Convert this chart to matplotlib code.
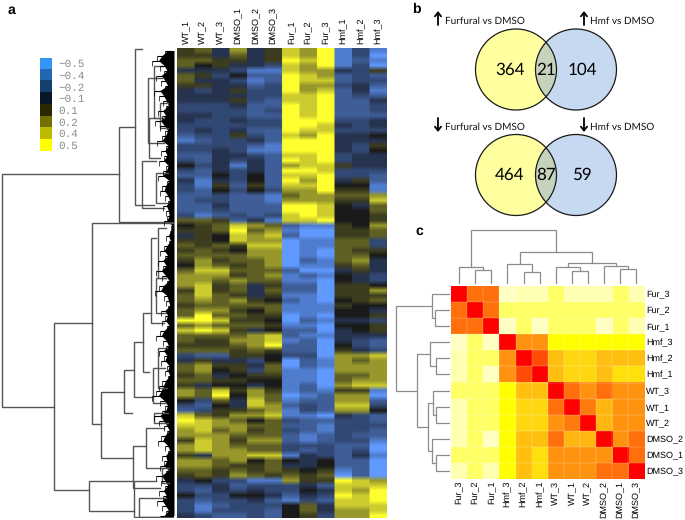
import numpy as np
import matplotlib
matplotlib.use('Agg')
import matplotlib.pyplot as plt
from matplotlib.colors import LinearSegmentedColormap, ListedColormap
from matplotlib.patches import Circle

plt.rcParams['font.family'] = ['Liberation Sans', 'DejaVu Sans']
plt.rcParams['text.hinting'] = 'no_hinting'
plt.rcParams['text.hinting_factor'] = 1

W, H = 685, 520

# panel a
sample_names = ['WT_1', 'WT_2', 'WT_3', 'DMSO_1', 'DMSO_2', 'DMSO_3',
                'Fur_1', 'Fur_2', 'Fur_3', 'Hmf_1', 'Hmf_2', 'Hmf_3']
# expression, in tenths
expression = [
    [1, 2, -1, 3, -1, 1, 4, 3, 5, -4, -2, -4],
    [1, 1, -1, 2, -1, 1, 4, 3, 5, -4, -2, -5],
    [2, 2, 1, 1, -1, 1, 5, 4, 5, -4, -3, -4],
    [2, 0, 1, -1, -1, -2, 4, 3, 5, -4, -2, -5],
    [-1, -1, -1, -2, -4, -4, 4, 3, 3, -1, -2, 1],
    [2, 1, -2, 0, -3, -3, 5, 4, 3, -3, -2, -3],
    [2, -1, -1, -2, -4, -3, 5, 4, 4, -3, -2, -2],
    [1, 1, -1, -1, -3, -2, 5, 3, 3, -2, -1, -3],
    [-1, -2, -1, 1, -2, -2, 5, 3, 4, -3, -1, -4],
    [-1, -1, -1, -1, -2, -2, 4, 4, 5, -3, -2, -3],
    [-1, -1, -1, 1, -2, -3, 4, 4, 5, -3, -3, -1],
    [-2, -2, -2, -1, -3, -3, 5, 4, 5, -3, -3, -2],
    [-2, -2, -2, -2, -3, -2, 5, 4, 5, -3, -3, -2],
    [-1, -1, -2, -2, -3, -3, 5, 4, 5, -3, -3, -3],
    [-1, -2, -2, -1, -2, -2, 5, 5, 5, -2, -2, -1],
    [-2, -2, -2, -2, -2, -2, 5, 5, 4, -1, -2, -1],
    [-2, -1, -2, -1, -3, -3, 5, 4, 4, -2, -2, -2],
    [-3, -2, -2, 1, -2, -3, 4, 3, 5, -1, -1, 0],
    [-4, -3, -2, -2, -1, -3, 5, 5, 5, -1, -1, -1],
    [-2, -2, -2, -2, -3, -4, 5, 5, 5, -1, -2, 1],
    [-2, -2, -1, -2, -4, -4, 5, 5, 5, -1, -2, 0],
    [-3, -3, -1, -1, -2, -3, 4, 4, 5, -2, -1, -1],
    [-2, -3, -1, -2, -1, -3, 5, 4, 5, -2, -1, -1],
    [0, -2, -1, -4, -1, -3, 3, 4, 4, 1, -1, -1],
    [-2, -3, -1, -2, -1, -3, 5, 5, 4, -2, -2, -2],
    [-3, -3, 0, -2, 0, -3, 4, 4, 5, -2, -2, -3],
    [-1, -4, -1, -2, 0, -3, 5, 3, 5, -1, 1, -3],
    [-2, -4, 1, -3, 1, -3, 4, 4, 5, 0, 0, -4],
    [-2, -3, 0, -2, 0, -2, 3, 3, 5, 1, 1, -4],
    [-3, -3, -2, -3, -3, -4, 2, 3, 3, 2, 2, 3],
    [-3, -2, -2, -3, -3, -4, 3, 3, 3, 1, 1, 4],
    [-3, -3, -1, -3, -3, -3, 5, 5, 4, 0, -1, 2],
    [-3, -3, -2, -3, -3, -3, 5, 5, 4, 0, 0, 2],
    [-2, -4, -3, -2, -3, -2, 4, 5, 4, 0, 0, 1],
    [2, 2, 1, -3, -1, -4, 4, 4, 5, 0, 0, 1],
    [0, 1, 2, 4, 3, 2, -3, -4, -4, 1, 0, 3],
    [1, 1, 2, 5, 2, 3, -4, -5, -5, 1, 1, 2],
    [-1, 1, 0, 4, 3, 4, -3, -5, -5, 1, 1, 2],
    [1, 1, 0, 4, 3, 3, -5, -4, -4, 2, 2, -2],
    [2, 1, 2, 1, 4, 4, -5, -4, -4, 2, 2, -2],
    [1, 2, 1, 0, 3, 3, -5, -4, -5, 2, 1, 1],
    [2, 2, 2, 2, 3, 3, -5, -4, -5, 2, 2, 0],
    [1, 3, 1, 2, 2, 3, -5, -3, -4, 2, 3, -1],
    [0, 3, 2, 1, 2, 3, -5, -4, -4, 1, 2, -1],
    [2, 4, 4, 2, 2, 2, -3, -5, -5, -1, 1, -1],
    [3, 3, 3, 1, 2, 3, -4, -3, -4, 0, -1, -2],
    [3, 3, 2, 3, 2, 2, -4, -4, -5, 0, -1, -2],
    [3, 4, 1, 2, -1, 1, -3, -3, -5, 1, 1, 0],
    [1, 4, 1, 2, -1, 2, -3, -3, -5, 1, 1, 3],
    [2, 4, 2, 1, -1, 1, -4, -4, -5, 1, 1, 1],
    [2, 3, 2, 3, 1, 0, -3, -4, -5, 0, 1, 2],
    [1, 2, 2, 2, 2, 2, -4, -4, -4, 1, 0, 0],
    [2, 3, 3, 1, 0, 2, -4, -4, -4, 0, 0, -1],
    [2, 5, 2, 2, 1, 1, -5, -4, -5, 0, 0, 1],
    [5, 5, 4, 1, 1, 0, -5, -3, -4, -1, -1, -2],
    [2, 3, 2, 2, 2, 1, -4, -4, -5, 0, 0, 1],
    [4, 5, 4, 1, -1, 0, -3, -3, -5, -1, 0, 1],
    [2, 2, 2, 2, 3, 4, -3, -4, -4, -1, -1, -1],
    [2, 1, 1, 3, 3, 4, -4, -3, -5, -1, -2, -3],
    [1, 1, 1, 2, 3, 5, -3, -3, -5, 0, -2, -3],
    [2, 2, 2, 1, 2, 1, -3, -3, -5, 1, -1, -2],
    [-2, -3, -3, 1, 1, 0, -2, -2, -5, 3, 3, 4],
    [-1, 1, -1, -1, -2, 0, -5, -3, -4, 3, 2, 3],
    [2, 3, 1, 1, -1, 2, -5, -3, -4, 3, 3, 3],
    [2, 3, 0, 1, -2, 2, -4, -4, -5, 3, 3, 3],
    [1, 2, -1, 0, 1, 1, -4, -4, -5, 2, 2, 3],
    [2, 2, 1, 1, 0, 0, -4, -4, -5, 2, 3, 3],
    [1, -1, 0, 0, -1, 0, -4, -3, -5, 3, 4, 4],
    [3, 2, 4, 1, 3, 1, -4, -3, -4, 1, 1, -4],
    [3, 2, 5, 0, 3, 2, -5, -4, -3, 3, 3, -5],
    [0, -2, 2, -1, 4, 2, -4, -3, -3, 3, 3, -3],
    [-2, -3, 0, -1, 4, 3, -3, -2, -3, 4, 4, -2],
    [-3, -2, 1, 1, 2, 3, -4, -2, -3, 3, 3, 0],
    [4, 2, 1, 3, 3, 4, -4, -4, -5, -1, -2, -3],
    [5, 4, 3, 2, 0, 2, -2, -3, -3, -2, -2, -3],
    [4, 4, 3, 3, 2, 2, -3, -3, -4, -2, -2, -2],
    [3, 4, 2, 3, 1, 2, -2, -3, -4, -2, -2, -3],
    [3, 3, 3, 2, 2, 2, -3, -4, -3, -2, -3, -3],
    [1, 4, 3, 1, 3, 3, -3, -4, -3, -2, -2, -4],
    [3, 4, 3, 2, 2, 2, -2, -2, -2, -3, -3, -5],
    [3, 4, 3, 3, 2, 2, -2, -3, -2, -3, -2, -5],
    [1, -1, 3, 3, 4, 4, -4, -1, -2, -3, -1, -4],
    [3, 3, 2, 3, 0, 2, 0, -1, 0, -3, -3, -5],
    [3, 3, 2, 1, 1, 2, -1, -1, 0, -3, -3, -5],
    [2, 2, 1, 2, 1, 2, 1, 0, 1, -4, -3, -5],
    [1, 2, 1, 3, 2, 1, 2, 1, 2, -5, -3, -5],
    [-1, 0, -2, -2, -4, -4, 3, 1, 1, 5, 4, 3],
    [-2, -2, -1, -3, -2, -2, -2, -1, -3, 4, 4, 4],
    [-2, -3, -1, -2, -1, -2, -2, 0, -1, 4, 3, 5],
    [0, -2, -2, 0, 0, -1, -3, -1, -2, 5, 4, 5],
    [-2, -3, -2, -2, -1, -3, -4, -2, -3, 4, 4, 5],
    [-2, -4, -3, -2, -2, -2, 0, 2, -1, 4, 4, 4],
    [-2, -4, -2, -2, -2, -3, 0, 2, -1, 3, 3, 4],
    [-1, -2, -3, -3, -2, -3, 0, 1, -2, 3, 3, 5],
]

# row dendrogram of panel a: merge distance, rows joined, distance of each child
link_dist = [172, 55, 39, 120, 82, 73, 50, 40, 31, 23, 18, 16, 85, 41, 28, 40, 35, 20, 32, 25, 26, 18, 14, 21, 20, 16, 12]
link_top = [25.2, 15.8, 0.2, 55.0, 35.0, 68.8, 64.4, 58.8, 53.0, 38.0, 46.0, 36.0, 86.5, 79.5, 76.0, 86.5, 90.0, 3.5, 22.5, 14.0, 6.0, 25.0, 11.0, 64.0, 73.0, 60.0, 84.0]
link_bot = [71.8, 34.8, 31.4, 88.4, 75.2, 82.0, 73.0, 69.8, 64.8, 55.0, 53.0, 46.0, 92.5, 88.0, 84.0, 93.8, 93.8, 14.0, 32.0, 22.0, 19.0, 31.0, 16.0, 71.0, 75.0, 68.0, 87.0]
link_top_child = [55, 39, 32, 82, 0, 50, 40, 31, 23, 18, 8, 8, 41, 28, 10, 18, 8, 12, 18, 10, 12, 6, 6, 9, 6, 7, 5]
link_bot_child = [120, 0, 20, 85, 73, 41, 42, 21, 25, 10, 8, 8, 40, 14, 10, 8, 0, 14, 10, 14, 10, 6, 6, 8, 6, 7, 5]
# how far the leaf brackets reach to the left in each row
tip_depth = [9, 17, 22, 14, 10, 18, 13, 9, 20, 15, 11, 8, 16, 12, 19, 14, 9, 12, 17, 8,
             13, 10, 15, 8, 11, 16, 7, 12, 14, 9, 6, 11, 8, 7, 10, 3, 4, 8, 5, 10,
             14, 9, 16, 11, 18, 12, 7, 15, 19, 10, 8, 6, 13, 9, 12, 7, 14, 18, 11, 8,
             15, 10, 13, 7, 9, 6, 12, 15, 18, 22, 14, 9, 12, 20, 15, 10, 7, 13, 16, 9,
             6, 12, 10, 14, 8, 18, 13, 9, 15, 11, 17, 12, 8, 14]

legend_labels = ['\u22120.5', '\u22120.4', '\u22120.2', '\u22120.1', '0.1', '0.2', '0.4', '0.5']
legend_colors = ['#3296F5', '#2168B0', '#153F6E', '#071828', '#2A2900', '#727000', '#BDBB00', '#FFFF00']

# panel b
venn_up = [364, 21, 104]
venn_down = [464, 87, 59]

# panel c
corr_names = ['Fur_3', 'Fur_2', 'Fur_1', 'Hmf_3', 'Hmf_2', 'Hmf_1',
              'WT_3', 'WT_1', 'WT_2', 'DMSO_2', 'DMSO_1', 'DMSO_3']
corr = [
    [1.00, .75, .75, .03, .05, .05, .13, .05, .05, .05, .13, .05],
    [.75, 1.00, .75, .13, .13, .13, .13, .13, .13, .13, .13, .13],
    [.75, .75, 1.00, .03, .13, .03, .13, .13, .13, .03, .13, .05],
    [.03, .13, .03, 1.00, .65, .65, .30, .30, .30, .30, .30, .30],
    [.05, .13, .13, .65, 1.00, .85, .52, .45, .45, .52, .52, .52],
    [.05, .13, .03, .65, .85, 1.00, .52, .45, .45, .52, .42, .42],
    [.13, .13, .13, .30, .52, .52, 1.00, .75, .65, .75, .65, .65],
    [.05, .13, .13, .30, .45, .45, .75, 1.00, .72, .55, .65, .65],
    [.05, .13, .13, .30, .45, .45, .65, .72, 1.00, .55, .65, .65],
    [.05, .13, .03, .30, .52, .52, .75, .55, .55, 1.00, .65, .75],
    [.13, .13, .13, .30, .52, .42, .65, .65, .65, .65, 1.00, .75],
    [.05, .13, .05, .30, .52, .42, .65, .65, .65, .75, .75, 1.00],
]
# merges between clusters: ids below 12 are leaves, then one id per merge in order
corr_merges = [(1, 2), (0, 12), (4, 5), (3, 14), (7, 8), (6, 16), (10, 11), (9, 18), (17, 19), (15, 20), (13, 21)]
corr_heights_top = [42, 50, 37, 60, 40, 50, 45, 55, 63, 95, 161]
corr_heights_left = [45, 53, 41, 61, 41, 50, 43, 53, 65, 98, 163]

heat_cmap = LinearSegmentedColormap.from_list('expr', [(0.0, '#6099FF'), (0.2, '#3F5E98'), (0.4, '#26334F'), (0.5, '#1A1A1A'),
                                                       (0.7, '#5F5F24'), (0.8, '#97972C'), (1.0, '#FFFF30')])
corr_cmap = LinearSegmentedColormap.from_list('corr', [(0.0, '#FFFFDC'), (0.13, '#FFFF66'), (0.3, '#FFFF00'),
                                                       (0.45, '#FFD810'), (0.65, '#FF9410'), (0.85, '#FF4E08'), (1.0, '#FF0000')])
DENDRO = '#555555'
CORR_LINE = '#8C8C8C'


def add_axes_px(fig, x0, y0, x1, y1):
    # rectangle given from the top left corner of the picture
    ax = fig.add_axes([x0 / W, 1 - y1 / H, (x1 - x0) / W, (y1 - y0) / H])
    return ax


def corr_dendrogram(ax, merges, heights, vertical):
    pos = {i: i + 0.5 for i in range(12)}
    hgt = {i: 0 for i in range(12)}
    for k, (a, b) in enumerate(merges):
        xs = [pos[a], pos[a], pos[b], pos[b]]
        ys = [hgt[a], heights[k], heights[k], hgt[b]]
        if vertical:
            ax.plot(xs, ys, color=CORR_LINE, lw=0.9, solid_joinstyle='miter')
        else:
            ax.plot(ys, xs, color=CORR_LINE, lw=0.9, solid_joinstyle='miter')
        pos[12 + k] = (pos[a] + pos[b]) / 2
        hgt[12 + k] = heights[k]
    ax.axis('off')


fig = plt.figure(figsize=(W / 100, H / 100), dpi=100)

# a: heatmap, repeating the columns keeps the blur of the smoothing inside the rows
ax = add_axes_px(fig, 177, 48, 387, 518)
n_rows = len(expression)
expr_fine = np.repeat(np.array(expression) / 10, 20, axis=1)
ax.imshow(expr_fine, cmap=heat_cmap, vmin=-0.5, vmax=0.5, aspect='auto',
          extent=(0, 12, n_rows, 0), interpolation='bilinear')
ax.xaxis.tick_top()
ax.set_xticks(np.arange(12) + 0.5)
ax.set_xticklabels(sample_names, rotation=90, fontsize=6.2)
ax.set_yticks([])
ax.tick_params(axis='x', length=0, pad=3)
for s in ax.spines.values():
    s.set_visible(False)

# a: row dendrogram
ax = add_axes_px(fig, 0, 48, 174, 518)
ax.set_xlim(173.5, 0)
ax.set_ylim(n_rows, 0)
for d, t, b, dt, db in zip(link_dist, link_top, link_bot, link_top_child, link_bot_child):
    ax.plot([dt, d, d, db], [t, t, b, b], color=DENDRO, lw=1.0, solid_joinstyle='miter')
rows = np.arange(n_rows) + 0.5
tips = np.array(tip_depth, dtype=float)
ax.fill_betweenx(rows, 0, tips * 0.7, color='black', lw=0)
ax.hlines(rows, 0, tips, color='black', lw=0.8)
ax.vlines(tips[:-1], rows[:-1], rows[1:], color='black', lw=0.5)
ax.axis('off')

# a: colour key
ax = add_axes_px(fig, 39.5, 57.5, 51.5, 150.5)
ax.imshow(np.arange(8).reshape(-1, 1), cmap=ListedColormap(legend_colors), aspect='auto')
ax.set_xticks([])
ax.yaxis.tick_right()
ax.set_yticks(np.arange(8))
ax.set_yticklabels(legend_labels, family=['Liberation Mono', 'DejaVu Sans Mono'], fontsize=8, color='#8A8A8A')
ax.tick_params(axis='y', length=0, pad=5)
for s in ax.spines.values():
    s.set_visible(False)

# b: venn diagrams, axis units are pixels of the picture
ax = add_axes_px(fig, 400, 0, 685, 222)
ax.set_xlim(400, 685)
ax.set_ylim(222, 0)
ax.axis('off')
for cy, counts, arrow_tail, arrow_head, ty in [(69.5, venn_up, 25, 11, 21), (175, venn_down, 118, 132, 127.5)]:
    left = Circle((516, cy), 40.5, fc='#FFFF9F', ec='none')
    right = Circle((576, cy), 40.5, fc='#C6D9F1', ec='none')
    lens = Circle((576, cy), 40.5, fc='#C5D3BC', ec='none')
    ax.add_patch(left)
    ax.add_patch(right)
    ax.add_patch(lens)
    lens.set_clip_path(Circle((516, cy), 40.5, transform=ax.transData))
    ax.add_patch(Circle((516, cy), 40.5, fc='none', ec='#1A1A1A', lw=0.9))
    ax.add_patch(Circle((576, cy), 40.5, fc='none', ec='#1A1A1A', lw=0.9))
    for xc, v in zip([510, 546, 582], counts):
        ax.text(xc, cy + 0.5, str(v), fontsize=12, family=['Lato', 'DejaVu Sans'], ha='center', va='center', color='black')
    for xa in [438, 584]:
        ax.annotate('', xy=(xa, arrow_head), xytext=(xa, arrow_tail),
                    arrowprops=dict(arrowstyle='->,head_length=0.28,head_width=0.22', color='black', lw=1.3,
                                    shrinkA=0, shrinkB=0))
    ax.text(445, ty, 'Furfural vs DMSO', fontsize=7, family=['Lato', 'DejaVu Sans'], va='center', color='#111111')
    ax.text(590.5, ty, 'Hmf vs DMSO', fontsize=7, family=['Lato', 'DejaVu Sans'], va='center', color='#111111')

# c: correlation heatmap
ax = add_axes_px(fig, 451, 286, 644.5, 479)
ax.imshow(corr, cmap=corr_cmap, vmin=0, vmax=1, aspect='auto', extent=(0, 12, 12, 0), interpolation='nearest')
ax.set_xticks(np.arange(12) + 0.5)
ax.set_xticklabels(corr_names, rotation=90, fontsize=6.7)
ax.yaxis.tick_right()
ax.set_yticks(np.arange(12) + 0.5)
ax.set_yticklabels(corr_names, fontsize=6.7)
ax.tick_params(length=0, pad=1.2)
for k in range(1, 12):
    ax.axhline(k, color='#FFFFFF', lw=0.3, alpha=0.5)
    ax.axvline(k, color='#FFFFFF', lw=0.3, alpha=0.5)
for s in ax.spines.values():
    s.set_visible(False)

ax = add_axes_px(fig, 451, 228, 644.5, 284)
ax.set_xlim(0, 12)
ax.set_ylim(0, 168)
corr_dendrogram(ax, corr_merges, corr_heights_top, True)

ax = add_axes_px(fig, 394, 286, 450, 479)
ax.set_xlim(168, 0)
ax.set_ylim(12, 0)
corr_dendrogram(ax, corr_merges, corr_heights_left, False)

# panel letters
for lab, x, y in [('a', 8, 10), ('b', 412, 9), ('c', 415, 231)]:
    fig.text(x / W, 1 - y / H, lab, fontsize=10, fontweight='bold', va='center', ha='left', color='black')

fig.savefig('out.png', dpi=100)
